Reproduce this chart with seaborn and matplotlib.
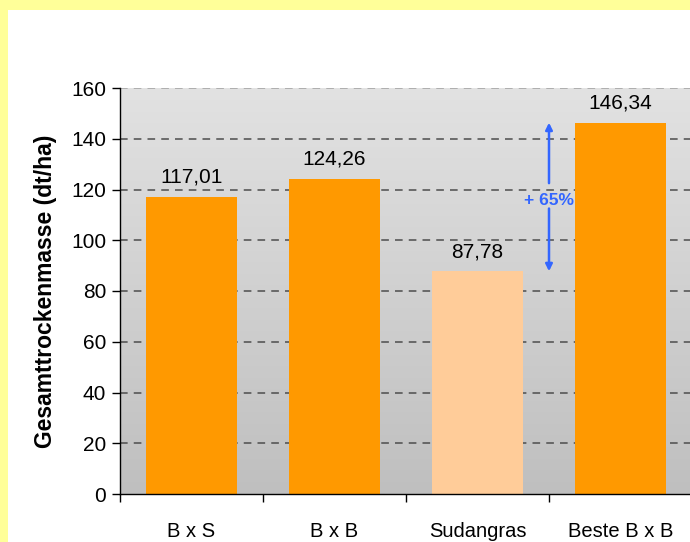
"""
Gesamttrockenmasse je Variante - Balkendiagramm
"""
import numpy as np
import pandas as pd
import matplotlib
matplotlib.use("Agg")
import matplotlib.pyplot as plt
import seaborn as sns
from matplotlib.patches import Rectangle

# Données
sorten = ["B x S", "B x B", "Sudangras", "Beste B x B"]
ertrag = [117.01, 124.26, 87.78, 146.34]
farben = ["#FF9900", "#FF9900", "#FFCC99", "#FF9900"]
y_ticks = [0, 20, 40, 60, 80, 100, 120, 140, 160]
differenz_text = "+ 65%"

sns.set_theme(style="white")
plt.rcParams["font.family"] = ["Liberation Sans", "DejaVu Sans"]
plt.rcParams["text.color"] = "black"
plt.rcParams["xtick.color"] = "black"
plt.rcParams["ytick.color"] = "black"
plt.rcParams["axes.labelcolor"] = "black"

df = pd.DataFrame({"sorte": sorten, "ertrag": ertrag})

fig = plt.figure(figsize=(6.9, 5.42), dpi=100, facecolor="#FFFF99")
# panneau blanc
fig.patches.append(Rectangle((8 / 690, 0), 1, (542 - 10) / 542,
                             transform=fig.transFigure, facecolor="white",
                             edgecolor="none", zorder=-5))

ax = fig.add_axes([120 / 690, (542 - 494) / 542, 572 / 690, 406 / 542])
ax.set_facecolor("none")

# fond en dégradé
grad = np.linspace(0, 1, 256).reshape(-1, 1)
cmap = matplotlib.colors.LinearSegmentedColormap.from_list("g", ["#e2e2e2", "#bfbfbf"])
ax.imshow(grad, cmap=cmap, aspect="auto", extent=[0, 1, 0, 1],
          transform=ax.transAxes, zorder=0)

sns.barplot(data=df, x="sorte", y="ertrag", hue="sorte", palette=farben,
            width=0.63, saturation=1, legend=False, linewidth=0, ax=ax,
            zorder=3)

ax.set_xlim(-0.5, 3.5)
ax.set_ylim(0, 160)

# grille
for y in y_ticks[1:]:
    ax.axhline(y, color="#4d4d4d" if y < 160 else "#a0a0a0", lw=1.1,
               ls=(0, (5, 4)), zorder=1)

# valeurs
for i, val in enumerate(ertrag):
    ax.text(i, val + 4, f"{val:.2f}".replace(".", ","), ha="center",
            va="bottom", fontsize=15, color="black", zorder=5)

# flèche + 65%
x_pf = 2.5
blau = "#3366FF"
ax.annotate("", xy=(x_pf, ertrag[3]), xytext=(x_pf, 122.5),
            arrowprops=dict(arrowstyle="-|>", color=blau, lw=1.8,
                            mutation_scale=10, shrinkA=0, shrinkB=0), zorder=6)
ax.annotate("", xy=(x_pf, ertrag[2]), xytext=(x_pf, 112.5),
            arrowprops=dict(arrowstyle="-|>", color=blau, lw=1.8,
                            mutation_scale=10, shrinkA=0, shrinkB=0), zorder=6)
ax.text(x_pf, 115.8, differenz_text, ha="center", va="center", color=blau,
        fontsize=12.5, fontweight="bold", zorder=6)

# axes
ax.set_yticks(y_ticks)
ax.set_yticklabels([str(t) for t in y_ticks], fontsize=15)
ax.set_xticks(range(len(sorten)))
ax.set_xticklabels(sorten, fontsize=14.5)
ax.set_xticks([-0.5, 0.5, 1.5, 2.5, 3.5], minor=True)
ax.tick_params(axis="x", which="major", length=0, pad=20)
ax.tick_params(axis="x", which="minor", length=6, width=1, color="black",
               direction="out", bottom=True)
ax.tick_params(axis="y", length=6, width=1, color="black", direction="out",
               left=True, pad=4)
ax.set_xlabel("")
ax.set_ylabel("Gesamttrockenmasse (dt/ha)", fontsize=16.5, fontweight="bold",
              labelpad=10)

for s in ["top", "right"]:
    ax.spines[s].set_visible(False)
for s in ["left", "bottom"]:
    ax.spines[s].set_color("black")
    ax.spines[s].set_linewidth(1)
    ax.spines[s].set_zorder(7)

fig.savefig("out.png", dpi=100, facecolor=fig.get_facecolor())
